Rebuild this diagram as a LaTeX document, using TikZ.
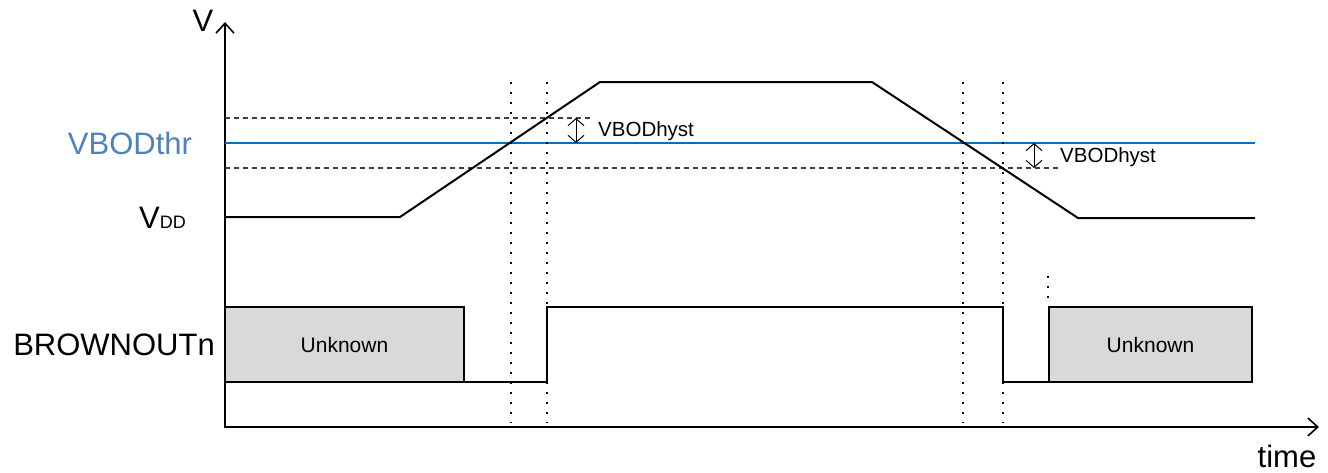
\documentclass[tikz,border=0pt]{standalone}
\usepackage{fontspec}
\setmainfont{Liberation Sans}
\usetikzlibrary{arrows.meta}
\definecolor{thrblue}{RGB}{0,112,192}
\definecolor{thrlabel}{RGB}{79,129,189}
\definecolor{unkgray}{RGB}{217,217,217}
\begin{document}
\begin{tikzpicture}[x=1pt,y=-1pt,
  axis/.style={line width=2pt, {Straight Barb[length=10pt,width=18pt,line width=1.6pt]}-{Straight Barb[length=10pt,width=18pt,line width=1.6pt]}},
  sig/.style={line width=2pt, line join=miter},
  thr/.style={line width=2pt, draw=thrblue},
  hdash/.style={line width=1.2pt, draw=black!75, dash pattern=on 5pt off 4pt},
  vdot/.style={line width=1.8pt, dash pattern=on 1.8pt off 8.2pt},
  hyst/.style={line width=1pt, {Straight Barb[length=7pt,width=16pt]}-{Straight Barb[length=7pt,width=16pt]}},
  unk/.style={draw, line width=2pt, fill=unkgray, anchor=north west, inner sep=0pt, outer sep=0pt,
    font=\fontsize{21}{25}\selectfont},
  big/.style={font=\fontsize{31}{36}\selectfont, inner sep=0pt},
  small/.style={font=\fontsize{20.5}{24}\selectfont, inner sep=0pt, anchor=west}]
\useasboundingbox (0,0) rectangle (1328,472);

% axes
\coordinate (ytop) at (225,22);
\coordinate (orig) at (225,427);
\coordinate (xend) at (1319,427);
\draw[axis] (ytop) -- (orig) -- (xend);

% threshold and hysteresis levels
\coordinate (hiL) at (225,118);  \coordinate (hiR) at (590,118);
\coordinate (thL) at (225,143);  \coordinate (thR) at (1255,143);
\coordinate (loL) at (225,168);  \coordinate (loR) at (1061,168);
\draw[hdash] (hiL) -- (hiR);
\draw[hdash] (loL) -- (loR);
\draw[thr] (thL) -- (thR);

% dotted time markers
\foreach \n/\x in {a/511,b/547,c/963,d/1003}{
  \coordinate (\n t) at (\x,82);
  \coordinate (\n b) at (\x,423);
  \draw[vdot] (\n t) -- (\n b);
}
\coordinate (et) at (1048,276);
\coordinate (eb) at (1048,301);
\draw[vdot] (et) -- (eb);

% VDD trace
\coordinate (v0) at (225,217);
\coordinate (v1) at (400,217);
\coordinate (v2) at (600,82);
\coordinate (v3) at (872,82);
\coordinate (v4) at (1078,218);
\coordinate (v5) at (1255,218);
\draw[sig] (v0) -- (v1) -- (v2) -- (v3) -- (v4) -- (v5);

% hysteresis arrows
\coordinate (h1t) at (576,118); \coordinate (h1b) at (576,143);
\coordinate (h2t) at (1034,143); \coordinate (h2b) at (1034,168);
\draw[hyst] (h1t) -- (h1b);
\draw[hyst] (h2t) -- (h2b);
\node[small] (hy1) at (598,131) {VBODhyst};
\node[small] (hy2) at (1060,157) {VBODhyst};

% BROWNOUTn
\node[unk, minimum width=239pt, minimum height=75pt] (u1) at (225,307) {Unknown};
\node[unk, minimum width=203pt, minimum height=75pt] (u2) at (1049,307) {Unknown};
\coordinate (r1) at (547,382);
\coordinate (r2) at (547,307);
\coordinate (f1) at (1003,307);
\coordinate (f2) at (1003,382);
\draw[sig] (u1.south east) -- (r1) -- (r2) -- (f1) -- (f2) -- (u2.south west);

% labels
\node[big] (lv) at (203,21) {V};
\node[big, text=thrlabel] (lthr) at (130,143) {VBODthr};
\node[big, anchor=base west] (lvdd) at (139,228) {V{\fontsize{18}{20}\selectfont DD}};
\node[big] (lbo) at (114,345) {BROWNOUTn};
\node[big] (ltime) at (1287,456) {time};
\end{tikzpicture}
\end{document}
